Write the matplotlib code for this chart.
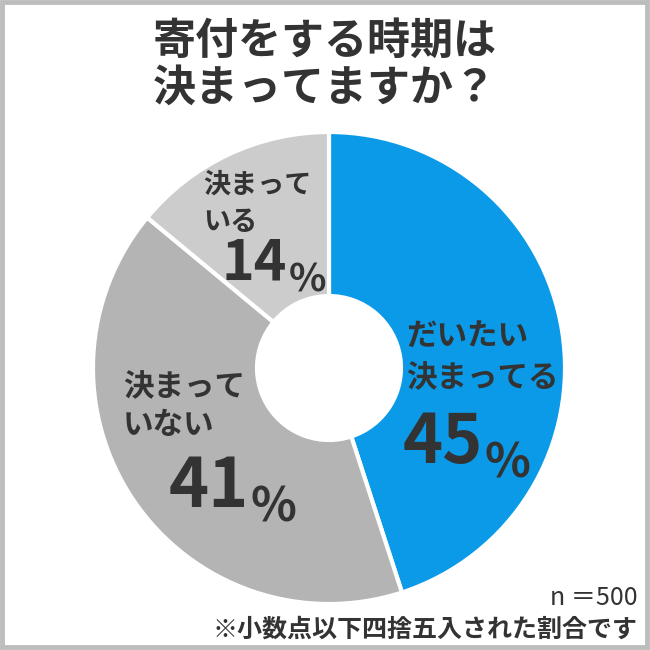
import matplotlib
matplotlib.use('Agg')
import matplotlib.pyplot as plt
from matplotlib.patches import Rectangle

plt.rcParams['font.family'] = ['Noto Sans CJK JP', 'DejaVu Sans']

TEXT_COL = '#333333'

title = '寄付をする時期は\n決まってますか？'
labels = [['だいたい', '決まってる'], ['決まって', 'いない'], ['決まって', 'いる']]
values = [45, 41, 14]
colors = ['#0a9ae8', '#b4b4b4', '#cccccc']
n_note = 'n ＝500'
foot_note = '※小数点以下四捨五入された割合です'

# label layout in pixel coords (x left, first line y, line gap, number x, number baseline, sizes)
label_pos = [
    dict(x=406, y=337, gap=41, nx=403, ny=463, fs=22, nfs=49),
    dict(x=123, y=387, gap=38, nx=169, ny=507, fs=22, nfs=49),
    dict(x=203, y=185, gap=37, nx=222, ny=279, fs=19.5, nfs=40),
]

fig = plt.figure(figsize=(6.5, 6.5), dpi=100)
ax = fig.add_axes([0, 0, 1, 1])

cx, cy, R, r = 329, 368, 236, 72
# y axis is inverted below, so counterclock/-90 gives clockwise from top on screen
ax.pie(values, colors=colors, startangle=-90, counterclock=True,
       center=(cx, cy), radius=R,
       wedgeprops=dict(width=R - r, edgecolor='white', linewidth=3))

ax.set_xlim(0, 650)
ax.set_ylim(650, 0)
ax.set_aspect('equal')
ax.axis('off')

# outer frame
ax.add_patch(Rectangle((1.5, 1.5), 645, 645, fill=False, edgecolor='#bdbdbd',
                       linewidth=3.5, clip_on=False))

ax.text(325, 41, title.split('\n')[0], ha='center', va='center', fontsize=31,
        fontweight='bold', color=TEXT_COL)
ax.text(325, 88, title.split('\n')[1], ha='center', va='center', fontsize=31,
        fontweight='bold', color=TEXT_COL)

for lab, val, p in zip(labels, values, label_pos):
    for i, line in enumerate(lab):
        ax.text(p['x'], p['y'] + i * p['gap'], line, ha='left', va='center',
                fontsize=p['fs'], fontweight='bold', color=TEXT_COL)
    num = ax.text(p['nx'], p['ny'], str(val), ha='left', va='baseline',
                  fontsize=p['nfs'], fontweight='bold', color=TEXT_COL)
    ax.annotate('%', xy=(1, 0), xycoords=num, xytext=(1, 0),
                textcoords='offset points', ha='left', va='baseline',
                fontsize=p['nfs'] * 0.7, fontweight='bold', color=TEXT_COL)

ax.text(638, 598, n_note, ha='right', va='center', fontsize=18, color=TEXT_COL)
ax.text(638, 630, foot_note, ha='right', va='center', fontsize=18,
        fontweight='bold', color=TEXT_COL)

fig.savefig('out.png', dpi=100)
